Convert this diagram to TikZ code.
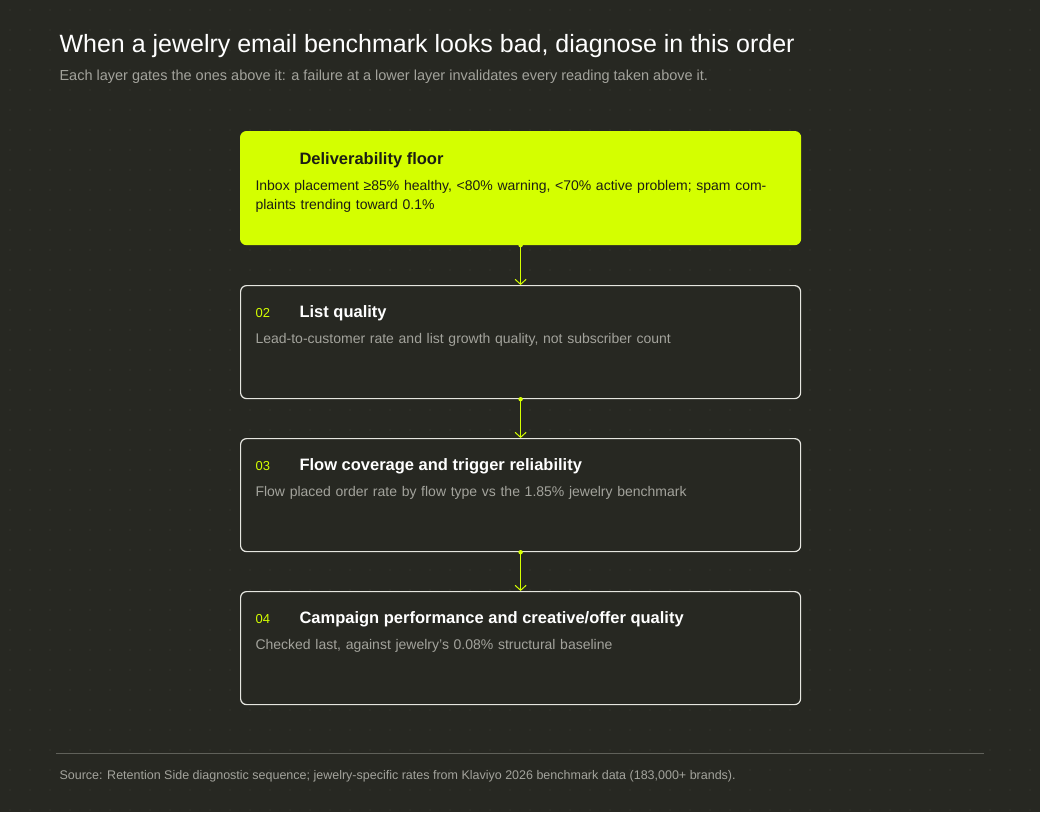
\documentclass[tikz,border=0pt]{standalone}
\usepackage{fontspec}
\setmainfont{Liberation Sans}
\usetikzlibrary{arrows.meta,positioning}
\definecolor{bg}{HTML}{272822}
\definecolor{lime}{HTML}{D4FF00}
\definecolor{ink}{HTML}{1C1E14}
\definecolor{muted}{HTML}{A3A39C}
\definecolor{edge}{HTML}{E6E6E0}
\definecolor{gridc}{HTML}{34352E}
\begin{document}
\begin{tikzpicture}[x=1pt,y=-1pt,
    layer/.style={draw=edge, line width=1.2pt, rounded corners=6pt, fill=bg, minimum width=560pt, minimum height=113pt, inner sep=0pt},
    first/.style={layer, draw=lime, fill=lime},
    num/.style={anchor=west, text=lime, font=\fontsize{13}{15}\selectfont},
    head/.style={anchor=west, text=white, font=\bfseries\fontsize{16.5}{19}\selectfont},
    body/.style={anchor=north west, text=muted, align=left, text width=530pt, font=\fontsize{14}{19}\selectfont},
    gate/.style={draw=lime, line width=1pt, -{Straight Barb[length=5pt,width=11pt]}}
]
% background and dot grid
\fill[bg] (0,0) rectangle (1040,812);
\useasboundingbox (0,0) rectangle (1040,812);
\foreach \i in {0,...,51} \foreach \j in {0,...,40}
  \fill[gridc] (\i*20+10,\j*20+10) circle (0.8pt);

% --- title ---
\node[anchor=west, text=white, font=\fontsize{25}{30}\selectfont] (title) at (56,46) {When a jewelry email benchmark looks bad, diagnose in this order};
\node[anchor=west, text=muted, font=\fontsize{14.5}{17}\selectfont] (subtitle) at (56,77) {Each layer gates the ones above it: a failure at a lower layer invalidates every reading taken above it.};

% --- layers ---
\node[first, anchor=north west] (l1) at (240,131) {};
\node[head, text=ink] (h1) at (296,160) {Deliverability floor};
\node[body, text=ink] (b1) at (252,177) {Inbox placement ≥85\% healthy, <80\% warning, <70\% active problem; spam complaints trending toward 0.1\%};

\node[layer, anchor=north west] (l2) at (240,285) {};
\node[num] (n2) at (252,313) {02};
\node[head] (h2) at (296,313) {List quality};
\node[body] (b2) at (252,330) {Lead-to-customer rate and list growth quality, not subscriber count};

\node[layer, anchor=north west] (l3) at (240,438) {};
\node[num] (n3) at (252,466) {03};
\node[head] (h3) at (296,466) {Flow coverage and trigger reliability};
\node[body] (b3) at (252,483) {Flow placed order rate by flow type vs the 1.85\% jewelry benchmark};

\node[layer, anchor=north west] (l4) at (240,591) {};
\node[num] (n4) at (252,619) {04};
\node[head] (h4) at (296,619) {Campaign performance and creative/offer quality};
\node[body] (b4) at (252,636) {Checked last, against jewelry's 0.08\% structural baseline};

% --- gates ---
\foreach \a/\b in {l1/l2,l2/l3,l3/l4} {
  \fill[lime] (\a.south) circle (2.2pt);
  \draw[gate] (\a.south) -- (\b.north);
}

% --- footer ---
\draw[draw=gridc!60!muted, line width=0.8pt] (56,753) coordinate (r1) -- (984,753) coordinate (r2);
\node[anchor=west, text=muted, font=\fontsize{12.5}{15}\selectfont] (source) at (56,776) {Source: Retention Side diagnostic sequence; jewelry-specific rates from Klaviyo 2026 benchmark data (183,000+ brands).};
\end{tikzpicture}
\end{document}
